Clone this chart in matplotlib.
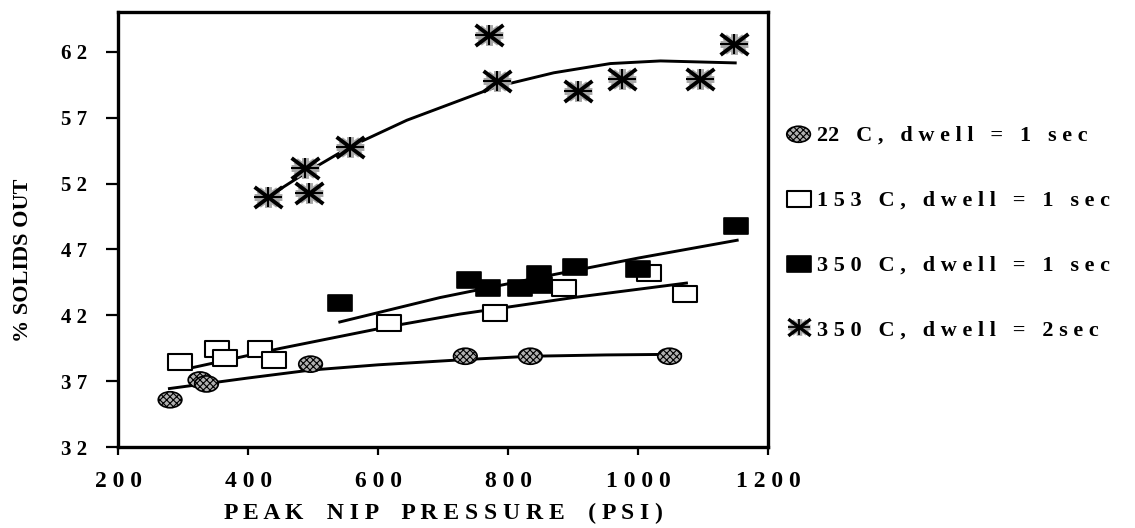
import matplotlib
matplotlib.use("Agg")
import matplotlib.pyplot as plt
import numpy as np
from matplotlib.path import Path
from matplotlib.lines import Line2D

plt.rcParams["font.family"] = ["Liberation Serif", "DejaVu Serif"]
plt.rcParams["font.weight"] = "bold"
plt.rcParams["hatch.linewidth"] = 0.8

# 22 C, dwell = 1 sec
c22_x = [280, 326, 336, 496, 734, 834, 1048]
c22_y = [35.6, 37.1, 36.8, 38.3, 38.9, 38.9, 38.9]
fit22_x = [279, 400, 496, 600, 734, 834, 950, 1065]
fit22_y = [36.45, 37.25, 37.85, 38.25, 38.65, 38.9, 39.0, 39.05]

# 153 C, dwell = 1 sec
c153_x = [296, 352, 364, 418, 440, 617, 779, 885, 1017, 1072]
c153_y = [38.5, 39.45, 38.75, 39.45, 38.65, 41.4, 42.15, 44.05, 45.2, 43.6]
fit153_x = [311, 450, 617, 726, 900, 1074]
fit153_y = [38.0, 39.5, 41.15, 42.1, 43.35, 44.45]

# 350 C, dwell = 1 sec
c350_x = [542, 740, 769, 818, 847, 849, 902, 1000, 1150]
c350_y = [42.95, 44.7, 44.05, 44.05, 45.15, 44.3, 45.7, 45.55, 48.8]
fit350_x = [541, 695, 850, 1000, 1152]
fit350_y = [41.5, 43.35, 44.9, 46.35, 47.7]

# 350 C, dwell = 2 sec
c350b_x = [431, 488, 493, 557, 771, 782, 908, 975, 1095, 1147]
c350b_y = [50.95, 53.15, 51.25, 54.8, 63.3, 59.75, 59.05, 59.95, 59.9, 62.6]
fit350b_x = [431, 488, 557, 644, 782, 870, 957, 1034, 1149]
fit350b_y = [51.0, 52.8, 54.8, 56.8, 59.35, 60.4, 61.1, 61.3, 61.15]

labels = [
    "22   C ,   d w e l l   =   1   s e c",
    "1 5 3   C ,   d w e l l   =   1   s e c",
    "3 5 0   C ,   d w e l l   =   1   s e c",
    "3 5 0   C ,   d w e l l   =   2 s e c",
]
x_ticks = [200, 400, 600, 800, 1000, 1200]
y_ticks = [32, 37, 42, 47, 52, 57, 62]


def spaced(value):
    return " ".join(str(value))


def spokes(angles_deg, squash=0.75):
    verts, codes = [], []
    for a in np.deg2rad(angles_deg):
        verts += [(0, 0), (np.cos(a), np.sin(a) * squash)]
        codes += [Path.MOVETO, Path.LINETO]
    return Path(verts, codes)


# squashed marker shapes (the scan is wider than tall)
ASPECT = 0.68
ellipse = Path(Path.unit_circle().vertices * [1.0, ASPECT], Path.unit_circle().codes)
rect = Path([(-1, -ASPECT), (1, -ASPECT), (1, ASPECT), (-1, ASPECT), (-1, -ASPECT)], closed=True)
star_all = spokes(np.arange(0, 360, 45))
star_diag = spokes([45, 135, 225, 315])
star_cross = spokes([0, 90, 180, 270])

fig = plt.figure(figsize=(11.35, 5.28), dpi=100)
ax = fig.add_axes([0.104, 0.153, 0.573, 0.824])

line_kw = dict(color="black", lw=2.1, zorder=2)
ax.plot(fit22_x, fit22_y, **line_kw)
ax.plot(fit153_x, fit153_y, **line_kw)
ax.plot(fit350_x, fit350_y, **line_kw)
ax.plot(fit350b_x, fit350b_y, **line_kw)

h22 = ax.scatter(c22_x, c22_y, marker=ellipse, s=17 ** 2, facecolor="#b0b0b0",
                 edgecolor="black", linewidths=1.2, hatch="xxxxx", zorder=3)
h153 = ax.scatter(c153_x, c153_y, marker=rect, s=17 ** 2, facecolor="white",
                  edgecolor="black", linewidths=1.5, zorder=3)
h350 = ax.scatter(c350_x, c350_y, marker=rect, s=17 ** 2, facecolor="black",
                  edgecolor="black", linewidths=1.2, zorder=4)
ax.plot(c350b_x, c350b_y, ls="none", marker=star_all, ms=20, mfc="none",
        mec="#a8a8a8", mew=5, zorder=4)
ax.plot(c350b_x, c350b_y, ls="none", marker=star_diag, ms=20, mfc="none",
        mec="black", mew=2.8, zorder=5)
ax.plot(c350b_x, c350b_y, ls="none", marker=star_cross, ms=20, mfc="none",
        mec="black", mew=1.5, zorder=5)

ax.set_xlim(200, 1200)
ax.set_ylim(32, 65)
ax.set_xticks(x_ticks)
ax.set_xticklabels([spaced(v) for v in x_ticks])
ax.set_yticks(y_ticks)
ax.set_yticklabels([spaced(v) for v in y_ticks])
ax.tick_params(axis="both", direction="out", width=1.6)
ax.tick_params(axis="y", length=9, pad=13, labelsize=15)
ax.tick_params(axis="x", length=6, pad=11, labelsize=17)
for sp in ax.spines.values():
    sp.set_linewidth(2.4)

ax.set_xlabel("P E A K    N I P    P R E S S U R E    ( P S I )", fontsize=17,
              fontweight="bold", va="center")
ax.xaxis.set_label_coords(0.5, -0.152)
ax.set_ylabel("% SOLIDS OUT", fontsize=16, fontweight="bold", va="center")
ax.yaxis.set_label_coords(-0.146, 0.43)

star_gray = Line2D([], [], ls="none", marker=star_all, ms=16, mfc="none", mec="#a8a8a8", mew=4)
star_d = Line2D([], [], ls="none", marker=star_diag, ms=16, mfc="none", mec="black", mew=2.4)
star_c = Line2D([], [], ls="none", marker=star_cross, ms=16, mfc="none", mec="black", mew=1.3)
leg = fig.legend([h22, h153, h350, (star_gray, star_d, star_c)], labels,
                 loc="center left", bbox_to_anchor=(0.684, 0.56), frameon=False,
                 fontsize=16, labelspacing=2.0, handletextpad=0.35,
                 handlelength=1.0, borderpad=0, scatterpoints=1)
for t in leg.get_texts():
    t.set_fontweight("bold")

fig.savefig("out.png", dpi=100)
